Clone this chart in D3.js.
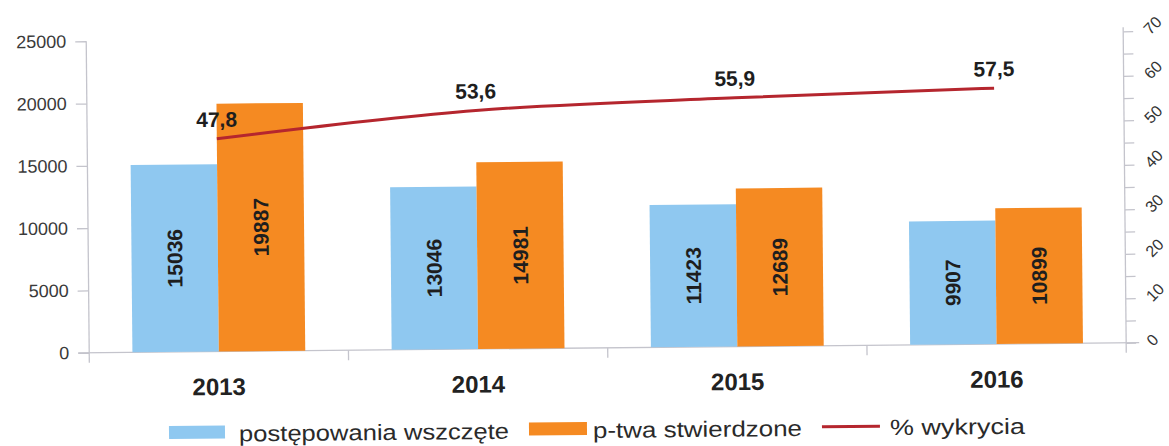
<!DOCTYPE html>
<html lang="pl">
<head>
<meta charset="UTF-8"/>
<title>Postępowania i przestępstwa</title>
<script src="https://d3js.org/d3.v7.min.js"></script>
<style>
    body { margin: 0; background: #ffffff; }
    svg { display: block; font-family: "Liberation Sans", Arial, sans-serif; }
    .axis path, .axis line { stroke: #c4c4cc; stroke-width: 1.3; }
</style>
</head>
<body>
<script>
    var years = ["2013", "2014", "2015", "2016"];
    var wszczete = [15036, 13046, 11423, 9907];
    var stwierdzone = [19887, 14981, 12689, 10899];
    var wykrycie = [47.8, 53.6, 55.9, 57.5];
    var wykrycieLabels = ["47,8", "53,6", "55,9", "57,5"];
    var leftTicks = [0, 5000, 10000, 15000, 20000, 25000];
    var rightTicks = d3.range(0, 71, 5);
    var seriesNames = ["postępowania wszczęte", "p-twa stwierdzone", "% wykrycia"];

    var w = 1169, h = 446;
    var plotL = 88, plotR = 1125, plotB = 348, plotT = 36.5;
    var blue = "#8fc8f0", orange = "#f58a22", red = "#b5262e";

    var svg = d3.select("body").append("svg")
        .attr("width", w)
        .attr("height", h);

    // the scan is slightly tilted
    var g = svg.append("g")
        .attr("transform", "rotate(-0.55, 584, 223)");

    var x0 = d3.scaleBand().domain(years).range([plotL, plotR]);
    var x1 = d3.scaleBand().domain([0, 1]).range([0, x0.bandwidth()]).paddingOuter(0.5);
    var yL = d3.scaleLinear().domain([0, 25000]).range([plotB, plotT]);
    var yR = d3.scaleLinear().domain([0, 70]).range([plotB, plotT]);

    // left axis
    var ax = g.append("g").attr("class", "axis")
        .attr("transform", "translate(" + plotL + ",0)")
        .call(d3.axisLeft(yL).tickValues(leftTicks).tickSize(11).tickSizeOuter(0).tickPadding(9)
            .tickFormat(function(d) { return d; }));
    ax.select(".domain").remove();
    ax.selectAll("text").attr("font-size", 18).attr("fill", "#3a3a3a")
        .attr("font-family", "Liberation Sans, Arial, sans-serif");
    g.append("line")
        .attr("x1", plotL).attr("x2", plotL).attr("y1", plotT).attr("y2", plotB + 10)
        .attr("stroke", "#c4c4cc").attr("stroke-width", 1.3);

    // right axis
    var ar = g.append("g").attr("class", "axis")
        .attr("transform", "translate(" + plotR + ",0)")
        .call(d3.axisRight(yR).tickValues(rightTicks).tickSize(10).tickSizeOuter(0)
            .tickFormat(function(d) { return d % 10 === 0 ? d : ""; }));
    ar.select(".domain").remove();
    ar.selectAll("text")
        .attr("font-size", 16).attr("fill", "#333")
        .attr("font-family", "Liberation Sans, Arial, sans-serif")
        .attr("text-anchor", "start")
        .attr("x", 0).attr("dy", 0)
        .attr("transform", "translate(27,4) rotate(-45)");
    g.append("line")
        .attr("x1", plotR).attr("x2", plotR).attr("y1", plotT - 4).attr("y2", plotB + 10)
        .attr("stroke", "#c4c4cc").attr("stroke-width", 1.3);

    // baseline and category separators
    g.append("line")
        .attr("x1", plotL - 11).attr("x2", plotR + 13).attr("y1", plotB).attr("y2", plotB)
        .attr("stroke", "#c4c4cc").attr("stroke-width", 1.3);
    g.selectAll(".sep")
        .data(years.slice(1))
        .enter().append("line")
        .attr("class", "sep")
        .attr("x1", function(d) { return x0(d); })
        .attr("x2", function(d) { return x0(d); })
        .attr("y1", plotB).attr("y2", plotB + 10)
        .attr("stroke", "#c4c4cc").attr("stroke-width", 1.3);

    // x axis labels
    var axb = g.append("g")
        .attr("transform", "translate(0," + plotB + ")")
        .call(d3.axisBottom(x0).tickSize(0).tickPadding(0));
    axb.select(".domain").remove();
    axb.selectAll("text")
        .attr("y", 43.5).attr("dy", 0)
        .attr("font-size", 24).attr("font-weight", "bold").attr("fill", "#222")
        .attr("font-family", "Liberation Sans, Arial, sans-serif");

    // bars
    var rows = years.map(function(y, i) {
        return { year: y, vals: [wszczete[i], stwierdzone[i]] };
    });
    var groups = g.selectAll(".grp")
        .data(rows)
        .enter().append("g")
        .attr("class", "grp")
        .attr("transform", function(d) { return "translate(" + x0(d.year) + ",0)"; });

    groups.selectAll("rect")
        .data(function(d) { return d.vals; })
        .enter().append("rect")
        .attr("x", function(d, i) { return x1(i); })
        .attr("y", function(d) { return yL(d); })
        .attr("width", x1.bandwidth())
        .attr("height", function(d) { return plotB - yL(d); })
        .attr("fill", function(d, i) { return i === 0 ? blue : orange; });

    groups.selectAll(".val")
        .data(function(d) { return d.vals; })
        .enter().append("text")
        .attr("class", "val")
        .attr("transform", function(d, i) {
            var cx = x1(i) + x1.bandwidth() / 2;
            var cy = (yL(d) + plotB) / 2;
            return "translate(" + cx + "," + cy + ") rotate(-90)";
        })
        .attr("text-anchor", "middle")
        .attr("dy", "0.36em")
        .attr("font-size", 21).attr("font-weight", "bold").attr("fill", "#1e1e1e")
        .text(function(d) { return d; });

    // detection line
    var line = d3.line()
        .x(function(d, i) { return x0(years[i]) + x0.bandwidth() / 2; })
        .y(function(d) { return yR(d); })
        .curve(d3.curveMonotoneX);

    g.append("path")
        .datum(wykrycie)
        .attr("d", line)
        .attr("fill", "none")
        .attr("stroke", red)
        .attr("stroke-width", 3);

    g.selectAll(".pct")
        .data(wykrycie)
        .enter().append("text")
        .attr("class", "pct")
        .attr("x", function(d, i) { return x0(years[i]) + x0.bandwidth() / 2; })
        .attr("y", function(d) { return yR(d) - 12; })
        .attr("text-anchor", "middle")
        .attr("font-size", 21).attr("font-weight", "bold").attr("fill", "#1e1e1e")
        .text(function(d, i) { return wykrycieLabels[i]; });

    // legend
    var lg = g.append("g");
    lg.append("rect").attr("x", 167).attr("y", 422).attr("width", 56).attr("height", 13).attr("fill", blue);
    lg.append("text").attr("x", 237).attr("y", 438).attr("textLength", 270).attr("lengthAdjust", "spacingAndGlyphs")
        .attr("font-size", 22).attr("fill", "#2a2a2a").text(seriesNames[0]);
    lg.append("rect").attr("x", 527).attr("y", 422).attr("width", 58).attr("height", 13).attr("fill", orange);
    lg.append("text").attr("x", 591).attr("y", 438).attr("textLength", 209).attr("lengthAdjust", "spacingAndGlyphs")
        .attr("font-size", 22).attr("fill", "#2a2a2a").text(seriesNames[1]);
    lg.append("line").attr("x1", 820).attr("x2", 878).attr("y1", 429).attr("y2", 429)
        .attr("stroke", red).attr("stroke-width", 3);
    lg.append("text").attr("x", 888).attr("y", 438).attr("textLength", 135).attr("lengthAdjust", "spacingAndGlyphs")
        .attr("font-size", 22).attr("fill", "#2a2a2a").text(seriesNames[2]);
</script>
</body>
</html>
